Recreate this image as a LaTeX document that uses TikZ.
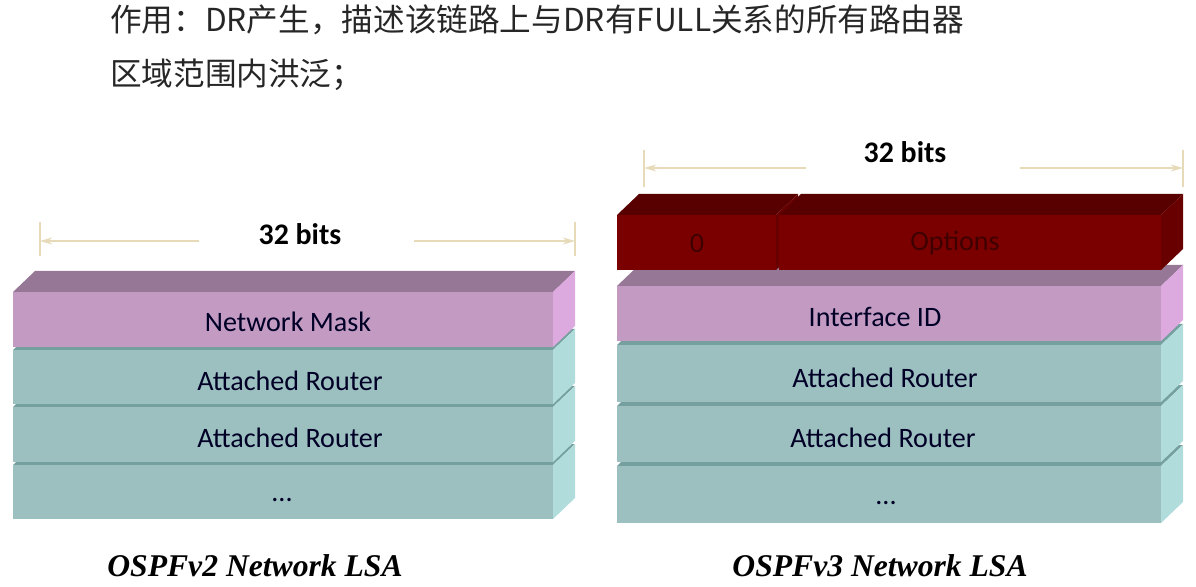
\documentclass[tikz,border=0pt]{standalone}
\usepackage{fontspec}
\usepackage{tikz}
\usetikzlibrary{arrows.meta}
\newfontfamily\cjk{Noto Sans CJK SC}
\newfontfamily\lblfont{Carlito}
\newfontfamily\capfont{Liberation Serif}
\definecolor{tealfront}{HTML}{9CC0C0}
\definecolor{tealtop}{HTML}{76A0A0}
\definecolor{tealside}{HTML}{B0DCDC}
\definecolor{pinkfront}{HTML}{C29AC2}
\definecolor{pinktop}{HTML}{967896}
\definecolor{pinkside}{HTML}{DCAADE}
\definecolor{redfront}{HTML}{7A0000}
\definecolor{redtop}{HTML}{580000}
\definecolor{redside}{HTML}{680000}
\definecolor{dimcol}{HTML}{E6DAB8}
\newcommand{\slab}[5]{%
  \fill[#5top] (#1,#3) -- (#1+22,#3-21) -- (#2+22,#3-21) -- (#2,#3) -- cycle;
  \fill[#5side] (#2,#3) -- (#2+22,#3-21) -- (#2+22,#4-21) -- (#2,#4) -- cycle;
  \fill[#5front] (#1,#3) rectangle (#2,#4);}

\begin{document}
\begin{tikzpicture}[x=0.02cm,y=-0.02cm,
                lbl/.style={font=\lblfont\fontsize{16}{18}\selectfont, text=black!85!blue},
                bits/.style={font=\lblfont\bfseries\fontsize{17}{20}\selectfont},
                caption/.style={font=\capfont\bfseries\itshape\fontsize{18}{21}\selectfont},
                dimline/.style={dimcol, line width=0.6pt, -{Stealth[length=7pt,width=4pt]}},
                tick/.style={dimcol, line width=0.6pt}]
                \useasboundingbox (0,0) rectangle (1196,587);
                \node[anchor=west, font=\cjk\fontsize{18}{22}\selectfont, text=black!85](l1) at (104,20){作用：DR产生，描述该链路上与DR有FULL关系的所有路由器};
                \node[anchor=west, font=\cjk\fontsize{18}{22}\selectfont, text=black!85](l2) at (104,75){区域范围内洪泛；};
                \slab{13}{553}{465}{519}{teal}
                \slab{13}{553}{407}{462}{teal}
                \slab{13}{553}{350}{404}{teal}
                \slab{13}{553}{292}{347}{pink}
                \node[lbl](nm) at (288,322){Network Mask};
                \node[lbl](ar1) at (290,381){Attached Router};
                \node[lbl](ar2) at (290,438){Attached Router};
                \node[lbl](more1) at (282,500){...};
                \slab{617}{1161}{466}{523}{teal}
                \slab{617}{1161}{406}{462}{teal}
                \slab{617}{1161}{345}{402}{teal}
                \slab{617}{1161}{286}{341}{pink}
                \slab{617}{776}{215}{270}{red}
                \slab{779}{1161}{215}{270}{red}
                \node[lbl, text=red!25!black](zero) at (697,243){0};
                \node[lbl, text=red!25!black](opt) at (955,243){Options};
                \node[lbl](iid) at (875,317){Interface ID};
                \node[lbl](ar3) at (885,378){Attached Router};
                \node[lbl](ar4) at (883,438){Attached Router};
                \node[lbl](more2) at (886,503){...};
                \node[bits](bits1) at (300,234){32 bits};
                \coordinate(la) at (40,241);
                \coordinate(la1) at (199,241);
                \coordinate(lb) at (575,241);
                \coordinate(lb1) at (414,241);
                \draw[tick] (40,222) -- (40,256);
                \draw[tick] (575,222) -- (575,256);
                \draw[dimline] (la1) -- (la);
                \draw[dimline] (lb1) -- (lb);
                \node[bits](bits2) at (905,152){32 bits};
                \coordinate(ra) at (644,168);
                \coordinate(ra1) at (806,168);
                \coordinate(rb) at (1183,168);
                \coordinate(rb1) at (1020,168);
                \draw[tick] (644,150) -- (644,187);
                \draw[tick] (1183,150) -- (1183,187);
                \draw[dimline] (ra1) -- (ra);
                \draw[dimline] (rb1) -- (rb);
                \node[caption](cap2) at (255,566){OSPFv2 Network LSA};
                \node[caption](cap3) at (880,566){OSPFv3 Network LSA};
\end{tikzpicture}
\end{document}
